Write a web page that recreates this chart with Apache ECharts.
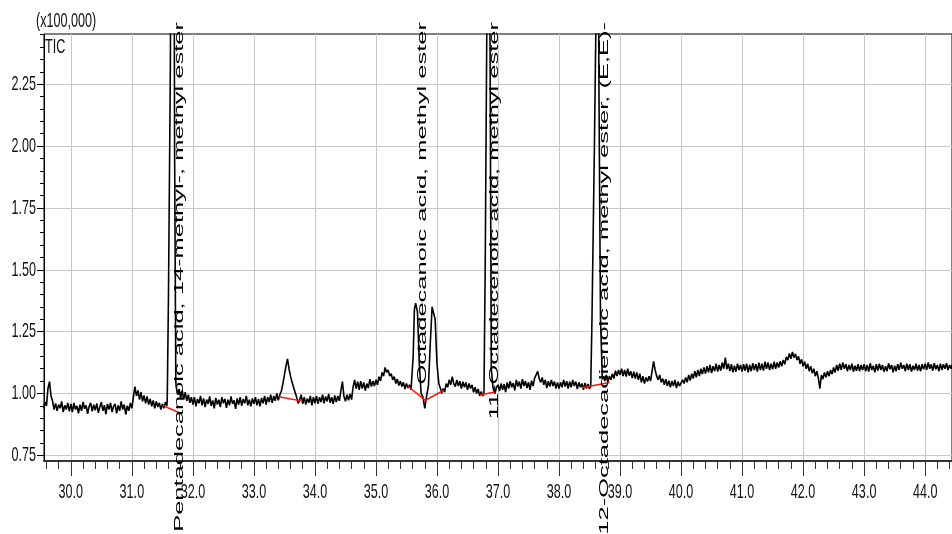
<!DOCTYPE html>
<html>
<head>
<meta charset="utf-8">
<title>TIC</title>
<script src="https://cdn.jsdelivr.net/npm/echarts@6.0.0/dist/echarts.min.js"></script>
<style>
html, body { margin: 0; padding: 0; background: #fff; }
#main { width: 952px; height: 534px; }
</style>
</head>
<body>
<div id="main"></div>
<script>
// axis ranges (minutes / x100,000 counts)
var xMin = 29.56, xMax = 44.44;
var yMin = 0.727, yMax = 2.453;
var xMajor = [30, 31, 32, 33, 34, 35, 36, 37, 38, 39, 40, 41, 42, 43, 44];
var yMajor = [0.75, 1.00, 1.25, 1.50, 1.75, 2.00, 2.25];

// TIC trace read every 0.025 min from 29.55, null = drawn by a peak below
var traceStart = 29.55, traceStep = 0.025;
var tic = [
  // 29.55 - 29.975
  0.94, 0.965, 0.95, 1.02, 1.048, 0.99, 0.97, 0.935, 0.96, 0.93, 0.955, 0.94, 0.968, 0.925, 0.952, 0.935, 0.962, 0.928,
  // 30
  0.958, 0.925, 0.962, 0.935, 0.95, 0.92, 0.955, 0.93, 0.966, 0.938, 0.952, 0.918, 0.948, 0.962, 0.928, 0.955, 0.932, 0.96, 0.922, 0.945,
  0.965, 0.93, 0.952, 0.916, 0.958, 0.935, 0.962, 0.925, 0.948, 0.958, 0.92, 0.952, 0.93, 0.968, 0.935, 0.955, 0.915, 0.95, 0.93, 0.962,
  // 31
  0.94, 0.985, 1.028, 0.99, 1.012, 0.975, 1.005, 0.968, 0.992, 0.96, 0.988, 0.955, 0.978, 0.948, 0.972, 0.94, 0.968, 0.945, 0.962, 0.935,
  0.958, 0.94, 0.965, 0.95, null, null, null, null, null, 1.03, 0.995, 1.018, 0.98, 1.012, 0.975, 1.005, 0.97, 0.995, 0.962, 0.985,
  // 32
  0.955, 0.985, 0.948, 0.978, 0.96, 0.99, 0.952, 0.98, 0.945, 0.975, 0.958, 0.988, 0.95, 0.972, 0.94, 0.982, 0.955, 0.975, 0.945, 0.985,
  0.96, 0.978, 0.942, 0.975, 0.952, 0.988, 0.958, 0.972, 0.938, 0.98, 0.955, 0.985, 0.95, 0.978, 0.96, 0.99, 0.952, 0.975, 0.948, 0.98,
  // 33
  0.958, 0.985, 0.952, 0.978, 0.948, 0.982, 0.96, 0.99, 0.955, 0.985, 0.965, 0.995, 0.962, 0.99, 0.97, 1.0, 0.972, 0.995, 1.01, 1.04,
  1.075, 1.11, 1.14, 1.1, 1.07, 1.045, 1.025, 1.005, 0.985, 0.96, 0.975, 0.995, 0.958, 0.985, 0.955, 0.98, 0.962, 0.99, 0.952, 0.985,
  // 34
  0.96, 0.99, 0.958, 0.985, 0.965, 0.995, 0.96, 0.988, 0.968, 0.998, 0.962, 0.985, 0.958, 0.992, 0.965, 0.99, 0.97, 1.01, 1.048, 0.99,
  0.968, 0.995, 0.972, 0.998, 0.975, 1.025, 1.055, 1.02, 1.048, 1.015, 1.05, 1.02, 1.045, 1.012, 1.04, 1.022, 1.058, 1.028, 1.05, 1.03,
  // 35
  1.055, 1.035, 1.068, 1.05, 1.085, 1.07, 1.105, 1.085, 1.095, 1.07, 1.08, 1.055, 1.068, 1.04, 1.058, 1.032, 1.05, 1.028, 1.045, 1.018,
  1.04, 1.022, 1.035, 1.015, null, null, null, null, null, null, null, null, null, null, null, null, null, null, null, null,
  // 36
  null, null, null, 1.0, 1.02, 1.005, 1.04, 1.025, 1.055, 1.035, 1.068, 1.04, 1.028, 1.055, 1.03, 1.05, 1.02, 1.048, 1.025, 1.045,
  1.015, 1.04, 1.02, 1.035, 1.005, 1.025, 1.0, 1.018, 0.99, 1.008, 0.99, null, null, null, null, null, null, 1.02, 1.0, 1.025,
  // 37
  1.035, 1.01, 1.04, 1.015, 1.038, 1.005, 1.045, 1.02, 1.05, 1.025, 1.042, 1.012, 1.055, 1.028, 1.048, 1.02, 1.058, 1.03, 1.05, 1.022,
  1.045, 1.015, 1.052, 1.03, 1.062, 1.075, 1.09, 1.06, 1.045, 1.065, 1.035, 1.055, 1.022, 1.05, 1.028, 1.055, 1.03, 1.048, 1.02, 1.045,
  // 38
  1.02, 1.045, 1.025, 1.055, 1.028, 1.05, 1.02, 1.048, 1.025, 1.055, 1.03, 1.048, 1.018, 1.045, 1.025, 1.04, 1.015, 1.042, 1.02, 1.038,
  1.018, null, null, null, null, null, null, null, null, 1.07, 1.05, 1.075, 1.045, 1.07, 1.055, 1.08, 1.06, 1.092, 1.07, 1.095,
  // 39
  1.075, 1.1, 1.07, 1.095, 1.068, 1.1, 1.072, 1.09, 1.062, 1.088, 1.06, 1.085, 1.055, 1.08, 1.045, 1.07, 1.04, 1.065, 1.048, 1.07,
  1.05, 1.09, 1.13, 1.095, 1.07, 1.055, 1.075, 1.045, 1.06, 1.035, 1.058, 1.03, 1.052, 1.025, 1.05, 1.03, 1.055, 1.022, 1.048, 1.03,
  // 40
  1.03, 1.055, 1.04, 1.065, 1.045, 1.075, 1.052, 1.08, 1.06, 1.09, 1.065, 1.095, 1.07, 1.1, 1.078, 1.105, 1.08, 1.11, 1.085, 1.115,
  1.082, 1.11, 1.09, 1.12, 1.088, 1.115, 1.092, 1.125, 1.1, 1.145, 1.098, 1.12, 1.09, 1.118, 1.085, 1.112, 1.088, 1.12, 1.095, 1.115,
  // 41
  1.088, 1.118, 1.092, 1.12, 1.085, 1.115, 1.09, 1.122, 1.095, 1.118, 1.088, 1.125, 1.095, 1.12, 1.092, 1.128, 1.1, 1.125, 1.095, 1.12,
  1.098, 1.128, 1.1, 1.125, 1.105, 1.13, 1.11, 1.135, 1.118, 1.148, 1.135, 1.162, 1.14, 1.168, 1.145, 1.16, 1.135, 1.15, 1.12, 1.138,
  // 42
  1.11, 1.128, 1.1, 1.12, 1.09, 1.11, 1.082, 1.1, 1.07, 1.09, 1.062, 1.02, 1.075, 1.058, 1.085, 1.065, 1.09, 1.07, 1.095, 1.078,
  1.105, 1.085, 1.115, 1.092, 1.12, 1.095, 1.125, 1.1, 1.118, 1.09, 1.115, 1.095, 1.12, 1.088, 1.112, 1.092, 1.118, 1.09, 1.115, 1.095,
  // 43
  1.118, 1.09, 1.115, 1.088, 1.122, 1.095, 1.112, 1.085, 1.118, 1.092, 1.12, 1.095, 1.115, 1.088, 1.11, 1.09, 1.122, 1.098, 1.115, 1.085,
  1.112, 1.09, 1.118, 1.095, 1.125, 1.1, 1.115, 1.09, 1.12, 1.095, 1.118, 1.088, 1.112, 1.095, 1.12, 1.092, 1.115, 1.09, 1.118, 1.098,
  // 44 - 44.45
  1.12, 1.095, 1.125, 1.1, 1.118, 1.092, 1.122, 1.098, 1.115, 1.09, 1.12, 1.095, 1.118, 1.1, 1.122, 1.095, 1.115, 1.1, 1.12
];

// peaks, [time, intensity]
var peak1 = [[31.58, 0.98], [31.60, 1.4], [31.63, 2.3], [31.66, 3.8], [31.68, 4.2], [31.70, 2.0], [31.72, 1.05]];
var peak2 = [[35.58, 1.02], [35.61, 1.15], [35.63, 1.34], [35.65, 1.365], [35.68, 1.33], [35.71, 1.12], [35.74, 1.0],
             [35.77, 0.985], [35.80, 0.94], [35.83, 0.99], [35.86, 1.03], [35.89, 1.2], [35.92, 1.35], [35.95, 1.355],
             [35.97, 1.3], [36.00, 1.12], [36.03, 1.04], [36.07, 1.01]];
var peak3 = [[36.77, 1.0], [36.79, 1.5], [36.82, 2.6], [36.85, 3.5], [36.87, 2.4], [36.89, 1.1], [36.92, 1.02]];
var peak4 = [[38.52, 1.03], [38.54, 1.3], [38.58, 2.0], [38.62, 2.8], [38.64, 3.0], [38.655, 2.2], [38.68, 1.3], [38.71, 1.06]];

// integration baselines (red)
var baselines = [
  [[31.50, 0.952], [31.80, 0.920]],
  [[33.41, 0.987], [33.77, 0.970]],
  [[35.52, 1.030], [35.81, 0.972]],
  [[35.81, 0.972], [36.11, 1.013]],
  [[36.70, 0.994], [36.95, 1.006]],
  [[38.37, 1.023], [38.83, 1.044]]
];

// identified peaks
var peakRT = [31.67, 35.65, 36.83, 38.63];
var peakNames = [
  'Pentadecanoic acid, 14-methyl-, methyl ester',
  'Octadecanoic acid, methyl ester',
  '11-Octadecenoic acid, methyl ester',
  '9,12-Octadecadienoic acid, methyl ester, (E,E)-'
];

// build the trace
var peaks = [peak1, peak2, peak3, peak4];
var traceData = [];
for (var i = 0; i < tic.length; i++) {
  if (tic[i] === null) continue;
  var t = Math.round((traceStart + i * traceStep) * 1000) / 1000;
  var inPeak = false;
  for (var k = 0; k < peaks.length; k++) {
    var pk = peaks[k];
    if (t > pk[0][0] && t < pk[pk.length - 1][0]) inPeak = true;
  }
  if (!inPeak) traceData.push([t, tic[i]]);
}
peaks.forEach(function (pk) {
  pk.forEach(function (p) { traceData.push(p); });
});
traceData.sort(function (a, b) { return a[0] - b[0]; });

// minor tick positions
var xMinor = [], yMinor = [];
for (var m = 148; m <= 222; m++) xMinor.push(Math.round(m * 2) / 10);
for (var n = 15; n <= 49; n++) yMinor.push(Math.round(n * 5) / 100);

var myChart = echarts.init(document.getElementById('main'), null, { renderer: 'canvas' });

var series = [{
  name: 'TIC',
  type: 'line',
  data: traceData,
  symbol: 'none',
  lineStyle: { color: '#000', width: 1.6 },
  z: 3
}];
baselines.forEach(function (seg) {
  series.push({
    type: 'line',
    data: seg,
    symbol: 'none',
    lineStyle: { color: '#ff1010', width: 1.5 },
    z: 4
  });
});

var option = {
  animation: false,
  backgroundColor: '#fff',
  grid: { left: 44, right: 0, top: 34, bottom: 73, show: true, borderColor: '#000', borderWidth: 1 },
  xAxis: [{
    type: 'value', min: xMin, max: xMax, position: 'bottom',
    axisLine: { show: true, onZero: false, lineStyle: { color: '#333', width: 2 } },
    axisTick: { show: true, customValues: xMajor, length: 15, lineStyle: { color: '#333' } },
    axisLabel: { show: false, customValues: xMajor },
    splitLine: { show: true, lineStyle: { color: '#c8c8c8', width: 1 } }
  }, {
    type: 'value', min: xMin, max: xMax, position: 'bottom',
    axisLine: { show: false },
    axisTick: { show: true, customValues: xMinor, length: 8, lineStyle: { color: '#333' } },
    axisLabel: { show: false },
    splitLine: { show: false }
  }],
  yAxis: [{
    type: 'value', min: yMin, max: yMax, position: 'left',
    axisLine: { show: true, onZero: false, lineStyle: { color: '#000', width: 1 } },
    axisTick: { show: true, customValues: yMajor, length: 7, lineStyle: { color: '#000' } },
    axisLabel: { show: false, customValues: yMajor },
    splitLine: { show: true, lineStyle: { color: '#c8c8c8', width: 1 } }
  }, {
    type: 'value', min: yMin, max: yMax, position: 'left',
    axisLine: { show: false },
    axisTick: { show: true, customValues: yMinor, length: 4, lineStyle: { color: '#000' } },
    axisLabel: { show: false },
    splitLine: { show: false }
  }],
  series: series
};
myChart.setOption(option);

// texts (stretched like the instrument print-out)
var fontH = '21px "Liberation Sans", Arial, sans-serif';
var fontV = '13px "Liberation Sans", Arial, sans-serif';
var toPx = function (v) { return myChart.convertToPixel({ xAxisIndex: 0, yAxisIndex: 0 }, v); };
var bottomPx = toPx([xMin, yMin])[1];
var topPx = toPx([xMin, yMax])[1];
var leftPx = toPx([xMin, yMin])[0];
var texts = [];

xMajor.forEach(function (t) {
  var p = toPx([t, yMin]);
  texts.push({
    type: 'text', x: p[0], y: bottomPx + 31, scaleX: 0.6, z: 100,
    style: { text: t.toFixed(1), font: fontH, fill: '#111', align: 'center', verticalAlign: 'middle', textAlign: 'center', textVerticalAlign: 'middle' }
  });
});
yMajor.forEach(function (v) {
  var p = toPx([xMin, v]);
  texts.push({
    type: 'text', x: leftPx - 8, y: p[1], scaleX: 0.6, z: 100,
    style: { text: v.toFixed(2), font: fontH, fill: '#111', align: 'right', verticalAlign: 'middle', textAlign: 'right', textVerticalAlign: 'middle' }
  });
});
texts.push({
  type: 'text', x: leftPx - 8, y: topPx - 13, scaleX: 0.6, z: 100,
  style: { text: '(x100,000)', font: fontH, fill: '#111', align: 'left', verticalAlign: 'middle', textAlign: 'left', textVerticalAlign: 'middle' }
});
texts.push({
  type: 'text', x: leftPx + 1, y: topPx + 13, scaleX: 0.6, z: 100,
  style: { text: 'TIC', font: fontH, fill: '#111', align: 'left', verticalAlign: 'middle', textAlign: 'left', textVerticalAlign: 'middle' }
});
peakRT.forEach(function (t, i) {
  var p = toPx([t, yMax]);
  texts.push({
    type: 'text', x: p[0] + 7, y: p[1] - 12, rotation: Math.PI / 2, scaleX: 1.96, z: 100,
    style: { text: peakNames[i], font: fontV, fill: '#000', align: 'right', verticalAlign: 'middle', textAlign: 'right', textVerticalAlign: 'middle' }
  });
});

myChart.setOption({ graphic: texts });
</script>
</body>
</html>
